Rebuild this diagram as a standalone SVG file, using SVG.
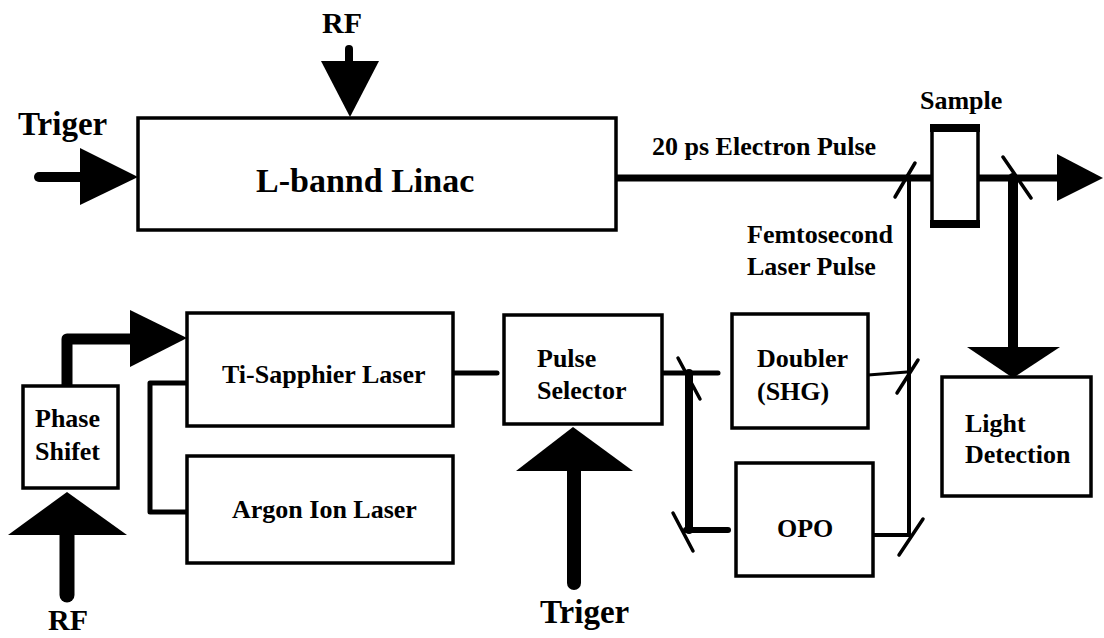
<svg xmlns="http://www.w3.org/2000/svg" width="1104" height="638" viewBox="0 0 1104 638">
<style>
.box{fill:#fff;stroke:#000;stroke-width:3.5}
.t{font-family:"Liberation Serif","Times New Roman",serif;font-weight:bold;font-size:26px;fill:#000}
.big{font-size:33px}
.rf{font-size:30px}
.ln{fill:none;stroke:#000;stroke-linecap:round;stroke-linejoin:round}
.m{stroke:#000;stroke-width:3.5;stroke-linecap:round}
.head{fill:#000}
</style>
<rect width="1104" height="638" fill="#fff"/>
<g id="connectors">
  <line class="ln" x1="616" y1="178" x2="1060" y2="178" stroke-width="7"/>
  <polygon class="head" points="1057,154 1057,201 1103,178"/>
  <line class="ln" x1="909" y1="178" x2="909" y2="535" stroke-width="4"/>
  <line class="ln" x1="1013" y1="178" x2="1013" y2="350" stroke-width="10" stroke-linecap="butt"/>
  <polygon class="head" points="967,347 1060,347 1013,378"/>
  <line class="ln" x1="349" y1="49" x2="349" y2="63" stroke-width="8"/>
  <polygon class="head" points="321,61 379,61 350,117"/>
  <line class="ln" x1="39" y1="177" x2="82" y2="177" stroke-width="10"/>
  <polygon class="head" points="80,148 80,205 138,177"/>
  <path class="ln" d="M67,386 V339 H134" stroke-width="11"/>
  <polygon class="head" points="130,310 130,367 187,338"/>
  <line class="ln" x1="67" y1="530" x2="67" y2="595" stroke-width="15" stroke-linecap="butt"/>
  <polygon class="head" points="8,535 127,535 67,492"/>
  <line class="ln" x1="574" y1="466" x2="574" y2="583" stroke-width="14" stroke-linecap="butt"/>
  <polygon class="head" points="516,471 633,471 573,427"/>
  <path class="ln" d="M187,383 H150 V512 H187" stroke-width="5" stroke-linecap="butt"/>
  <line class="ln" x1="453" y1="373" x2="497" y2="373" stroke-width="5"/>
  <line class="ln" x1="662" y1="373" x2="718" y2="373" stroke-width="5"/>
  <line class="ln" x1="689" y1="373" x2="689" y2="530" stroke-width="8" stroke-linecap="butt"/>
  <line class="ln" x1="686" y1="530" x2="728" y2="530" stroke-width="6"/>
  <line class="ln" x1="868" y1="375" x2="907" y2="372" stroke-width="3"/>
  <line class="ln" x1="873" y1="535" x2="909" y2="535" stroke-width="4"/>
  <line class="m" x1="895" y1="197" x2="915" y2="163"/>
  <line class="m" x1="1003" y1="157" x2="1031" y2="198"/>
  <line class="m" x1="897" y1="393" x2="918" y2="360"/>
  <line class="m" x1="899" y1="555" x2="923" y2="519"/>
  <line class="m" x1="678" y1="358" x2="700" y2="399"/>
  <line class="m" x1="673" y1="513" x2="693" y2="551"/>
</g>
<g id="linac">
  <rect class="box" x="138" y="118" width="478" height="112"/>
  <text class="t" x="256" y="192" style="font-size:34px">L-bannd Linac</text>
</g>
<g id="rf-top"><text class="t rf" x="322" y="33">RF</text></g>
<g id="trigger-top"><text class="t big" x="18" y="135">Triger</text></g>
<g id="electron-label"><text class="t" x="652" y="155">20 ps Electron Pulse</text></g>
<g id="sample">
  <rect class="box" x="932" y="127" width="46" height="99" stroke-width="4"/>
  <rect x="930" y="124" width="50" height="8" fill="#000"/>
  <rect x="930" y="220" width="50" height="8" fill="#000"/>
  <text class="t" x="920" y="109">Sample</text>
</g>
<g id="femto-label">
  <text class="t" x="747" y="243">Femtosecond</text>
  <text class="t" x="747" y="275">Laser Pulse</text>
</g>
<g id="ti-sapphire">
  <rect class="box" x="187" y="313" width="266" height="113"/>
  <text class="t" x="222" y="383">Ti-Sapphier Laser</text>
</g>
<g id="argon">
  <rect class="box" x="187" y="456" width="266" height="107"/>
  <text class="t" x="232" y="518">Argon Ion Laser</text>
</g>
<g id="phase-shifter">
  <rect class="box" x="23" y="386" width="95" height="102"/>
  <text class="t" x="35" y="427">Phase</text>
  <text class="t" x="35" y="460">Shifet</text>
</g>
<g id="rf-bottom"><text class="t rf" x="48" y="630">RF</text></g>
<g id="pulse-selector">
  <rect class="box" x="504" y="315" width="158" height="109"/>
  <text class="t" x="537" y="367">Pulse</text>
  <text class="t" x="537" y="399">Selector</text>
</g>
<g id="trigger-bottom"><text class="t big" x="540" y="623">Triger</text></g>
<g id="doubler">
  <rect class="box" x="732" y="314" width="136" height="114"/>
  <text class="t" x="757" y="367">Doubler</text>
  <text class="t" x="757" y="400">(SHG)</text>
</g>
<g id="opo">
  <rect class="box" x="736" y="463" width="137" height="113"/>
  <text class="t" x="777" y="537">OPO</text>
</g>
<g id="light-detection">
  <rect class="box" x="942" y="377" width="149" height="119"/>
  <text class="t" x="965" y="432">Light</text>
  <text class="t" x="965" y="463">Detection</text>
</g>
</svg>
